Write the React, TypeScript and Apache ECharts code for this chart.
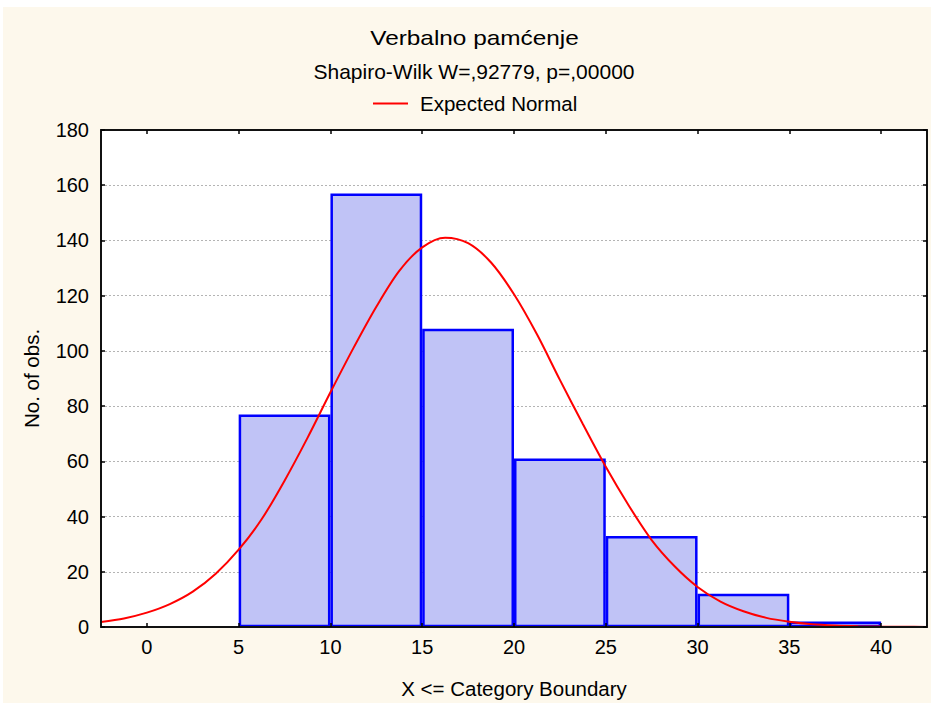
import React, { useEffect, useRef } from "react";
import * as echarts from "echarts";

const binStarts = [0, 5, 10, 15, 20, 25, 30, 35];
const binEnds = [5, 10, 15, 20, 25, 30, 35, 40];
const counts = [0, 77, 157, 108, 61, 33, 12, 2];

const curveX = [
  -2.5, -1.25, 0, 1.25, 2.5, 3.75, 5, 6.25, 7.5, 8.75, 10, 11.25, 12.5, 13.75, 15, 16.25, 17.5, 18.75,
  20, 21.25, 22.5, 23.75, 25, 26.25, 27.5, 28.75, 30, 31.25, 32.5, 33.75, 35, 36.25, 37.5, 38.75, 40, 41.25, 42.5,
];
const curveY = [
  1.8, 3.1, 5.2, 8.3, 12.8, 19.3, 28, 39, 53, 68.5, 85, 101, 116, 129, 137.5, 141, 139, 132,
  120.5, 106, 89.5, 73.5, 58, 44, 31.5, 22, 14.5, 9.2, 5.7, 3.3, 1.9, 1.0, 0.55, 0.3, 0.15, 0.07, 0.03,
];

const xTicks = [0, 5, 10, 15, 20, 25, 30, 35, 40];

const FONT = "'Liberation Sans', Arial, Helvetica, sans-serif";

export default function App() {
  const ref = useRef<HTMLDivElement>(null);
  useEffect(() => {
    if (!ref.current) return;
    const chart = echarts.init(ref.current, null, { renderer: "svg" });
    const barData = binStarts.map((s, i) => [s, binEnds[i], counts[i]]);
    const lineData = curveX.map((x, i) => [x, curveY[i]]);
    const tickStyle = { show: true, inside: true, length: 4, lineStyle: { color: "#000", width: 1.5 } };
    const axisLine = { show: true, onZero: false, lineStyle: { color: "#111", width: 2 } };
    chart.setOption({
      animation: false,
      backgroundColor: "#fdf8ec",
      textStyle: { fontFamily: FONT },
      grid: { left: 101, right: 4, top: 130, bottom: 77, show: true, backgroundColor: "#ffffff", borderWidth: 0, outerBoundsMode: "none" },
      xAxis: [
        {
          type: "value", min: -2.5, max: 42.5, position: "bottom", z: 5,
          axisLine,
          axisTick: { ...tickStyle, customValues: xTicks },
          axisLabel: { customValues: xTicks, color: "#000", fontSize: 20, fontFamily: FONT, margin: 10 },
          splitLine: { show: false },
        },
        {
          type: "value", min: -2.5, max: 42.5, position: "top", z: 5,
          axisLine,
          axisTick: { ...tickStyle, customValues: xTicks },
          axisLabel: { show: false },
          splitLine: { show: false },
        },
      ],
      yAxis: [
        {
          type: "value", min: 0, max: 180, interval: 20, position: "left", z: 5,
          axisLine,
          axisTick: tickStyle,
          axisLabel: { color: "#000", fontSize: 20, fontFamily: FONT, margin: 12 },
          splitLine: { show: false },
        },
        {
          type: "value", min: 0, max: 180, interval: 20, position: "right", z: 5,
          axisLine,
          axisTick: tickStyle,
          axisLabel: { show: false },
          splitLine: { show: false },
        },
        {
          type: "value", min: 0, max: 180, interval: 20, position: "left", z: 0,
          axisLine: { show: false },
          axisTick: { show: false },
          axisLabel: { show: false },
          splitLine: { show: true, lineStyle: { color: "#b4b4b4", width: 1, type: [2, 2] } },
        },
      ],
      legend: {
        show: true,
        left: 368,
        top: 88,
        itemWidth: 42,
        itemHeight: 14,
        icon: "path://M0,6H35V8H0ZM0,0H0.01V0.01H0ZM41.99,13.99H42V14H41.99Z",
        textStyle: { fontSize: 20.5, color: "#000", fontFamily: FONT },
        data: ["Expected Normal"],
      },
      graphic: [
        { type: "rect", shape: { x: 0, y: 0, width: 931, height: 7 }, style: { fill: "#ffffff" }, silent: true },
        { type: "rect", shape: { x: 0, y: 0, width: 3, height: 704 }, style: { fill: "#ffffff" }, silent: true },
        { type: "rect", shape: { x: 0, y: 703, width: 931, height: 1 }, style: { fill: "#ffffff" }, silent: true },
        {
          type: "text", x: 474.5, y: 38, scaleX: 1.16,
          style: { text: "Verbalno pamćenje", fontSize: 21, fontFamily: FONT, fill: "#000", textAlign: "center", textVerticalAlign: "middle", align: "center", verticalAlign: "middle" },
        },
        {
          type: "text", x: 474, y: 71,
          style: { text: "Shapiro-Wilk W=,92779, p=,00000", fontSize: 21, fontFamily: FONT, fill: "#000", textAlign: "center", textVerticalAlign: "middle", align: "center", verticalAlign: "middle" },
        },
        {
          type: "text", x: 514, y: 688,
          style: { text: "X <= Category Boundary", fontSize: 20.5, fontFamily: FONT, fill: "#000", textAlign: "center", textVerticalAlign: "middle", align: "center", verticalAlign: "middle" },
        },
        {
          type: "text", x: 31, y: 378.5, rotation: Math.PI / 2,
          style: { text: "No. of obs.", fontSize: 20.5, fontFamily: FONT, fill: "#000", textAlign: "center", textVerticalAlign: "middle", align: "center", verticalAlign: "middle" },
        },
      ],
      series: [
        {
          type: "custom",
          name: "Histogram",
          xAxisIndex: 0,
          yAxisIndex: 0,
          z: 2,
          data: barData,
          encode: { x: [0, 1], y: 2 },
          renderItem: (params: any, api: any) => {
            const lo = api.value(0);
            const hi = api.value(1);
            const v = api.value(2);
            if (!v) return { type: "group", children: [] };
            const p0 = api.coord([lo, v]);
            const p1 = api.coord([hi, 0]);
            return {
              type: "rect",
              shape: { x: p0[0] + 1.25, y: p0[1] + 1.25, width: p1[0] - p0[0] - 2.5, height: p1[1] - p0[1] - 2.25 },
              style: { fill: "#c0c3f6", stroke: "#0000ff", lineWidth: 2.5 },
            };
          },
        },
        {
          type: "line",
          name: "Expected Normal",
          xAxisIndex: 0,
          yAxisIndex: 0,
          z: 3,
          data: lineData,
          smooth: 0.3,
          symbol: "none",
          showSymbol: false,
          clip: true,
          color: "#ff0000",
          itemStyle: { color: "#ff0000" },
          lineStyle: { color: "#ff0000", width: 2 },
        },
      ],
    });
    return () => chart.dispose();
  }, []);
  return <div ref={ref} style={{ position: "fixed", left: 0, top: 0, width: 931, height: 704 }} />;
}
